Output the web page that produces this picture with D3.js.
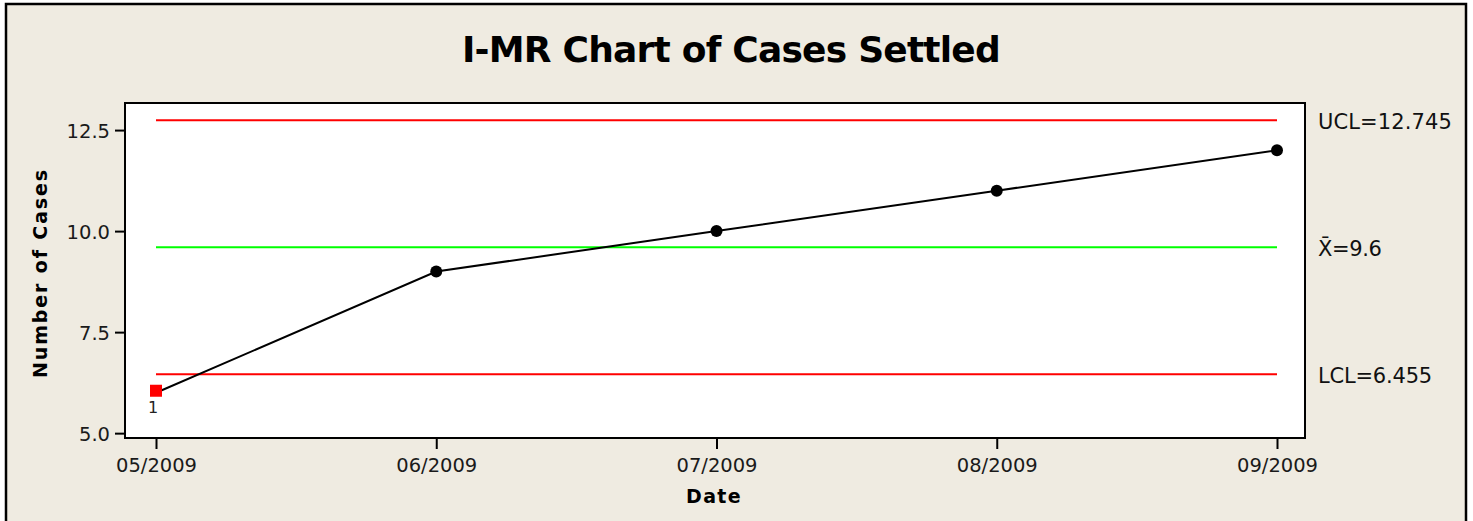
<!DOCTYPE html>
<html><head><meta charset="utf-8">
<script src="https://cdn.jsdelivr.net/npm/d3@7"></script>
<style>html,body{margin:0;padding:0;background:#fff;}svg{display:block;}</style>
</head><body>
<script>
const dates = ["05/2009","06/2009","07/2009","08/2009","09/2009"];
const cases = [6, 9, 10, 11, 12];
const yTicks = [5.0, 7.5, 10.0, 12.5];
const UCL = 12.745, MEAN = 9.6, LCL = 6.455;
const outOfControl = [0];

const W = 1473, H = 521;
const svg = d3.select("body").append("svg").attr("width", W).attr("height", H);
svg.append("rect").attr("x",0).attr("y",0).attr("width",W).attr("height",H).attr("fill","#fff");
svg.append("rect").attr("x",6).attr("y",4).attr("width",1460).attr("height",H+10)
  .attr("fill","#efebe1").attr("stroke","#000").attr("stroke-width",2.5);

const L = 125, T = 103, R = 1305, B = 438;
const x = d3.scalePoint().domain(dates).range([156, 1277]);
const y = d3.scaleLinear().domain([4.88, 13.17]).range([B, T]);

svg.append("rect").attr("x",L).attr("y",T).attr("width",R-L).attr("height",B-T)
  .attr("fill","#fff").attr("stroke","#000").attr("stroke-width",2);

const font = "'DejaVu Sans', Verdana, sans-serif";

// fit text to a target width by adjusting letter-spacing
function fit(sel, target) {
  sel.attr("letter-spacing", 0);
  const n = sel.text().length;
  const w = sel.node().getComputedTextLength();
  if (n > 1) sel.attr("letter-spacing", (target - w) / n);
  return sel;
}

const yAxis = svg.append("g").attr("transform",`translate(${L-1},0)`)
  .call(d3.axisLeft(y).tickValues(yTicks).tickFormat(d3.format(".1f")).tickSize(9).tickPadding(5));
const xAxis = svg.append("g").attr("transform",`translate(0,${B+1})`)
  .call(d3.axisBottom(x).tickSize(10).tickPadding(5));
[yAxis,xAxis].forEach(a=>{
  a.attr("font-size",null).attr("font-family",null);
  a.select(".domain").remove();
  a.selectAll(".tick line").attr("stroke","#000").attr("stroke-width",2);
  a.selectAll("text").style("font-family",font).style("font-size","19.5px").attr("fill","#1a1a1a");
});
xAxis.selectAll("text").attr("dy",null).attr("y",33);
yAxis.selectAll("text").attr("dy","0.36em");

const x0 = x(dates[0]), x1 = x(dates[dates.length-1]);
[[UCL,"#ff0000"],[MEAN,"#00ff00"],[LCL,"#ff0000"]].forEach(([v,c])=>{
  svg.append("line").attr("x1",x0).attr("x2",x1).attr("y1",y(v)).attr("y2",y(v))
    .attr("stroke",c).attr("stroke-width",2);
});

svg.append("path").datum(cases.map((v,i)=>[x(dates[i]),y(v)]))
  .attr("d",d3.line()).attr("fill","none").attr("stroke","#000").attr("stroke-width",2);

cases.forEach((v,i)=>{
  if (outOfControl.includes(i)) {
    svg.append("rect").attr("x",x(dates[i])-6).attr("y",y(v)-8).attr("width",12).attr("height",12).attr("fill","#ff0000");
    svg.append("text").attr("x",x(dates[i])-3).attr("y",y(v)+20).attr("text-anchor","middle")
      .style("font-family",font).style("font-size","16px").attr("fill","#222").text("1");
  } else {
    svg.append("circle").attr("cx",x(dates[i])).attr("cy",y(v)).attr("r",6).attr("fill","#000");
  }
});

const lab = (v, t, w, dy) => fit(svg.append("text").attr("x",1318).attr("y",y(v)+dy)
  .style("font-family",font).style("font-size","21px").attr("fill","#111").text(t), w);
lab(UCL,"UCL=12.745",134,9);
lab(MEAN,"X\u0304=9.6",63,9);
lab(LCL,"LCL=6.455",114,9);

const title = svg.append("text").attr("x",731).attr("y",62).attr("text-anchor","middle")
  .style("font-family","'DejaVu Sans', Verdana, sans-serif").style("font-weight","bold").style("font-size","36px")
  .attr("fill","#000").text("I-MR Chart of Cases Settled");
fit(title, 538);
const ylab = svg.append("text").attr("transform",`translate(47,273) rotate(-90)`).attr("text-anchor","middle")
  .style("font-family",font).style("font-weight","bold").style("font-size","19px").attr("fill","#000").text("Number of Cases");
fit(ylab, 210);
const xlab = svg.append("text").attr("x",714).attr("y",503).attr("text-anchor","middle")
  .style("font-family",font).style("font-weight","bold").style("font-size","19px").attr("fill","#000").text("Date");
fit(xlab, 56);
</script>
</body></html>
